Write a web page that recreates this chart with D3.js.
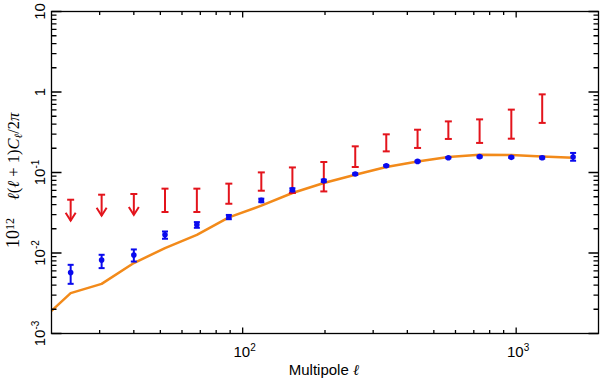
<!DOCTYPE html>
<html>
<head>
<meta charset="utf-8">
<script src="https://cdn.jsdelivr.net/npm/d3@7"></script>
<style>
  body { margin: 0; background: #fff; }
</style>
</head>
<body>
<div id="body"></div>
<script>
// multipole bins
var ell = [23.5, 30.5, 40, 52, 68, 89, 117, 152, 198, 258, 335, 436, 565, 735, 960, 1245, 1615];

// blue points with error bars
var blueVal = [0.00572, 0.00816, 0.00942, 0.01683, 0.02244, 0.028, 0.045, 0.0611, 0.0791, 0.0958, 0.1215, 0.1374, 0.1528, 0.1574, 0.1543, 0.1528, 0.156];
var blueLo = [0.00414, 0.00649, 0.00783, 0.01503, 0.02056, 0.0263, 0.0428, 0.0585, 0.0765, 0.0935, 0.119, 0.1345, 0.150, 0.154, 0.151, 0.149, 0.140];
var blueHi = [0.00713, 0.0095, 0.01107, 0.0185, 0.0242, 0.0297, 0.0473, 0.0637, 0.0817, 0.098, 0.124, 0.140, 0.1555, 0.161, 0.158, 0.157, 0.175];

// red: first three are upper limits, then ranges
var redUpper = [0.0459, 0.0530, 0.0541];
var redLo = [0.0323, 0.0323, 0.0409, 0.0594, 0.0556, 0.0582, 0.117, 0.183, 0.2018, 0.261, 0.233, 0.263, 0.413];
var redHi = [0.0630, 0.0630, 0.0727, 0.1003, 0.1156, 0.135, 0.2114, 0.298, 0.340, 0.4315, 0.457, 0.604, 0.935];

// orange model curve
var modelEll = [20, 23.5, 30.5, 40, 52, 68, 89, 117, 152, 198, 258, 335, 436, 565, 735, 960, 1245, 1615];
var modelVal = [0.00191, 0.00317, 0.00414, 0.0075, 0.0115, 0.0168, 0.0277, 0.0387, 0.0556, 0.0740, 0.0939, 0.117, 0.137, 0.156, 0.1665, 0.165, 0.1585, 0.153];

var xMajor = [100, 1000];
var xMajorLabel = ["2", "3"];
var yMajor = [10, 1, 0.1, 0.01, 0.001];
var yMajorLabel = [["10", ""], ["1", ""], ["10", "-1"], ["10", "-2"], ["10", "-3"]];

var width = 600;
var height = 380;

var blueColor = "#0a0aee";
var redColor = "#e3141c";
var orangeColor = "#f28a1a";
var tickFont = "Liberation Sans, Arial, Helvetica, sans-serif";
var mathFont = "Liberation Serif, Times New Roman, serif";

var svg = d3
  .select("#body")
  .append("svg")
  .attr("width", width)
  .attr("height", height);

var x = d3.scaleLog().domain([20, 2000]).range([51.5, 598.5]);
var y = d3.scaleLog().domain([0.001, 10]).range([333.5, 11.5]);

// minor tick positions
var xMinor = [];
[10, 100, 1000].forEach(function (b) {
  for (var k = 2; k <= 9; k++) {
    var v = b * k;
    if (v > 20 && v < 2000 && v !== 100 && v !== 1000) xMinor.push(v);
  }
});
var yMinor = [];
[0.001, 0.01, 0.1, 1].forEach(function (b) {
  for (var k = 2; k <= 9; k++) yMinor.push(b * k);
});

//======================= MODEL LINE ============================

svg
  .append("path")
  .datum(modelEll)
  .attr("fill", "none")
  .attr("stroke", orangeColor)
  .attr("stroke-width", 2.5)
  .attr("stroke-linejoin", "round")
  .attr(
    "d",
    d3
      .line()
      .x(function (d) {
        return x(d);
      })
      .y(function (d, i) {
        return y(modelVal[i]);
      })
  );

//======================= RED ============================

var redG = svg.append("g").attr("stroke", redColor).attr("stroke-width", 2).attr("fill", "none");

// upper limit arrows
redUpper.forEach(function (v, i) {
  var cx = x(ell[i]);
  var top = y(v);
  redG.append("line").attr("x1", cx - 3.5).attr("x2", cx + 3.5).attr("y1", top).attr("y2", top);
  redG.append("line").attr("x1", cx).attr("x2", cx).attr("y1", top).attr("y2", top + 21);
  redG
    .append("path")
    .attr("d", "M" + (cx - 5) + "," + (top + 13) + "L" + cx + "," + (top + 21) + "L" + (cx + 5) + "," + (top + 13));
});

// ranges
redLo.forEach(function (v, i) {
  var cx = x(ell[i + 3]);
  var lo = y(v);
  var hi = y(redHi[i]);
  redG.append("line").attr("x1", cx).attr("x2", cx).attr("y1", hi).attr("y2", lo);
  redG.append("line").attr("x1", cx - 3.5).attr("x2", cx + 3.5).attr("y1", hi).attr("y2", hi);
  redG.append("line").attr("x1", cx - 3.5).attr("x2", cx + 3.5).attr("y1", lo).attr("y2", lo);
});

//======================= BLUE ============================

var blueG = svg.append("g");

blueG
  .selectAll("g")
  .data(ell)
  .enter()
  .append("g")
  .each(function (d, i) {
    var g = d3.select(this);
    var cx = x(d);
    var lo = y(blueLo[i]);
    var hi = y(blueHi[i]);
    g.append("line").attr("x1", cx).attr("x2", cx).attr("y1", hi).attr("y2", lo)
      .attr("stroke", blueColor).attr("stroke-width", 2);
    g.append("line").attr("x1", cx - 3).attr("x2", cx + 3).attr("y1", hi).attr("y2", hi)
      .attr("stroke", blueColor).attr("stroke-width", 2);
    g.append("line").attr("x1", cx - 3).attr("x2", cx + 3).attr("y1", lo).attr("y2", lo)
      .attr("stroke", blueColor).attr("stroke-width", 2);
    g.append("circle").attr("cx", cx).attr("cy", y(blueVal[i])).attr("r", 2.8).attr("fill", blueColor);
  });

//======================= AXES ============================

var axisG = svg.append("g").attr("stroke", "#000").attr("stroke-width", 1.3);

axisG
  .append("rect")
  .attr("x", x.range()[0])
  .attr("y", y.range()[1])
  .attr("width", x.range()[1] - x.range()[0])
  .attr("height", y.range()[0] - y.range()[1])
  .attr("fill", "none");

function xTicks(values, len) {
  axisG
    .selectAll(null)
    .data(values)
    .enter()
    .append("path")
    .attr("d", function (d) {
      return "M" + x(d) + "," + y.range()[0] + "v" + -len + "M" + x(d) + "," + y.range()[1] + "v" + len;
    });
}
function yTicks(values, len) {
  axisG
    .selectAll(null)
    .data(values)
    .enter()
    .append("path")
    .attr("d", function (d) {
      return "M" + x.range()[0] + "," + y(d) + "h" + len + "M" + x.range()[1] + "," + y(d) + "h" + -len;
    });
}
xTicks(xMajor, 6);
xTicks(xMinor, 3.5);
yTicks(yMajor, 10);
yTicks(yMinor, 5);

// x tick labels
var xLab = svg
  .selectAll(".xlab")
  .data(xMajor)
  .enter()
  .append("text")
  .attr("class", "xlab")
  .attr("x", function (d) {
    return x(d) + 2;
  })
  .attr("y", 357)
  .attr("text-anchor", "middle")
  .attr("font-family", tickFont)
  .attr("font-size", 15);
xLab.append("tspan").text("10");
xLab
  .append("tspan")
  .attr("dy", -6)
  .attr("font-size", 10)
  .text(function (d, i) {
    return xMajorLabel[i];
  });

// y tick labels (rotated)
var yLab = svg
  .selectAll(".ylab")
  .data(yMajor)
  .enter()
  .append("text")
  .attr("class", "ylab")
  .attr("transform", function (d) {
    return "translate(45," + y(d) + ") rotate(-90)";
  })
  .attr("text-anchor", "middle")
  .attr("font-family", tickFont)
  .attr("font-size", 15);
yLab.append("tspan").text(function (d, i) {
  return yMajorLabel[i][0];
});
yLab
  .append("tspan")
  .attr("dy", -6)
  .attr("font-size", 10)
  .text(function (d, i) {
    return yMajorLabel[i][1];
  });

// x title
var xTitle = svg
  .append("text")
  .attr("x", 324)
  .attr("y", 375)
  .attr("text-anchor", "middle")
  .attr("font-family", tickFont)
  .attr("font-size", 15);
xTitle.append("tspan").text("Multipole ");
xTitle.append("tspan").attr("font-family", mathFont).attr("font-style", "italic").text("ℓ");

// y title: scale factor, then the formula
var yTitleA = svg
  .append("text")
  .attr("transform", "translate(19,248) rotate(-90)")
  .attr("text-anchor", "start")
  .attr("font-family", mathFont)
  .attr("font-size", 18);
yTitleA.append("tspan").text("10");
yTitleA.append("tspan").attr("dy", -5).attr("font-size", 12).text("12");

var yTitleB = svg
  .append("text")
  .attr("transform", "translate(19,200) rotate(-90)")
  .attr("text-anchor", "start")
  .attr("font-family", mathFont)
  .attr("font-size", 16.5);
yTitleB.append("tspan").attr("font-style", "italic").text("ℓ");
yTitleB.append("tspan").text("(");
yTitleB.append("tspan").attr("font-style", "italic").text("ℓ");
yTitleB.append("tspan").text(" + 1)");
yTitleB.append("tspan").attr("font-style", "italic").text("C");
yTitleB.append("tspan").attr("font-style", "italic").attr("font-size", 11).attr("dy", 3).text("ℓ");
yTitleB.append("tspan").attr("dy", -3).text("/2");
yTitleB.append("tspan").attr("font-style", "italic").text("π");
</script>
</body>
</html>
